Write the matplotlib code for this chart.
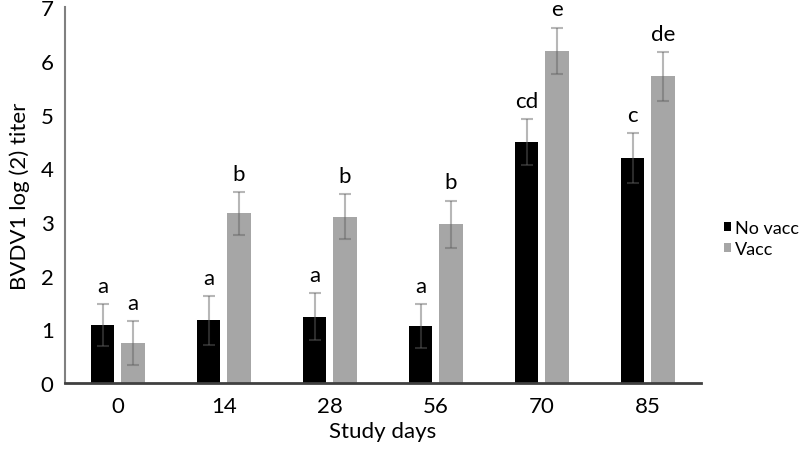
import numpy as np
import matplotlib.pyplot as plt

plt.rcParams['font.family'] = ['Lato', 'DejaVu Sans']

days = ['0', '14', '28', '56', '70', '85']
no_vacc = [1.09, 1.17, 1.24, 1.07, 4.49, 4.19]
no_vacc_err = [0.39, 0.45, 0.43, 0.41, 0.43, 0.46]
vacc = [0.75, 3.16, 3.10, 2.96, 6.19, 5.71]
vacc_err = [0.41, 0.40, 0.42, 0.44, 0.43, 0.46]
no_vacc_letters = ['a', 'a', 'a', 'a', 'cd', 'c']
vacc_letters = ['a', 'b', 'b', 'b', 'e', 'de']

x = np.arange(len(days))
w = 0.22
off = 0.143

fig = plt.figure(figsize=(8, 4.52), dpi=100)
ax = fig.add_axes([0.081, 0.150, 0.795, 0.832])

ax.bar(x - off, no_vacc, w, color='black', label='No vacc')
ax.bar(x + off, vacc, w, color='#a6a6a6', label='Vacc')
ax.errorbar(x - off, no_vacc, yerr=no_vacc_err, fmt='none', ecolor='#606060',
            alpha=0.45, capsize=4, elinewidth=1.5, capthick=1.5)
ax.errorbar(x + off, vacc, yerr=vacc_err, fmt='none', ecolor='#606060',
            alpha=0.45, capsize=4, elinewidth=1.5, capthick=1.5)

for i in range(len(days)):
    ax.text(x[i] - off, no_vacc[i] + no_vacc_err[i] + 0.15, no_vacc_letters[i],
            ha='center', va='bottom', fontsize=16)
    ax.text(x[i] + off, vacc[i] + vacc_err[i] + 0.15, vacc_letters[i],
            ha='center', va='bottom', fontsize=16)

ax.set_xlim(-0.5, len(days) - 0.5)
ax.set_ylim(0, 7)
ax.set_xticks(x)
ax.set_xticklabels(days, fontsize=16)
ax.set_yticks(range(8))
ax.tick_params(axis='y', labelsize=16, length=0, pad=8)
ax.tick_params(axis='x', length=0, pad=9)
ax.spines['top'].set_visible(False)
ax.spines['right'].set_visible(False)
ax.spines['left'].set_color('#808080')
ax.spines['left'].set_linewidth(1.5)
ax.spines['bottom'].set_color('#404040')
ax.spines['bottom'].set_linewidth(2)
ax.set_xlabel('Study days', fontsize=16, labelpad=4)
ax.set_ylabel('BVDV1 log (2) titer', fontsize=16, labelpad=8)

fig.legend(loc='center left', bbox_to_anchor=(0.905, 0.47), frameon=False,
           fontsize=13, handlelength=0.4, handleheight=0.4, handletextpad=0.2,
           labelspacing=0.25, borderpad=0, borderaxespad=0)

fig.savefig('out.png', dpi=100)
